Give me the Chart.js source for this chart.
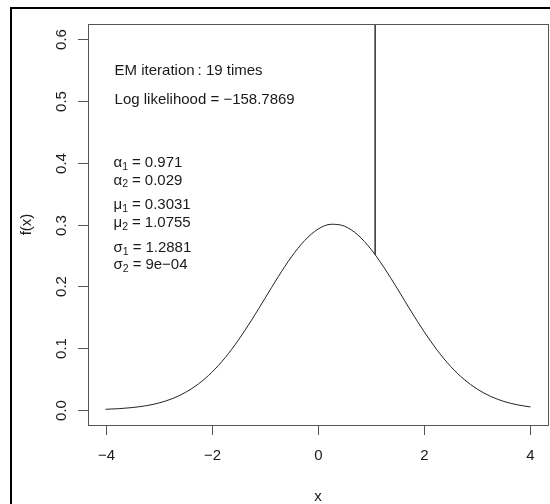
<!DOCTYPE html>
<html>
<head>
<meta charset="utf-8">
<script src="https://cdn.jsdelivr.net/npm/chart.js@4.4.1/dist/chart.umd.min.js"></script>
<style>
body{margin:0;background:#fff;}
</style>
</head>
<body>
<canvas id="myChart" width="550" height="504"></canvas>
<script>
// fitted mixture density
const xVals=[-4,-3.75,-3.5,-3.25,-3,-2.75,-2.5,-2.25,-2,-1.75,-1.5,-1.25,-1,-0.75,-0.5,-0.25,0,0.25,0.5,0.75,1,1.0755,1.25,1.5,1.75,2,2.25,2.5,2.75,3,3.25,3.5,3.75,4];
const fVals=[0.0011,0.0021,0.0039,0.0067,0.0112,0.0181,0.0282,0.0422,0.0608,0.0844,0.1129,0.1454,0.1803,0.2153,0.2476,0.2742,0.2925,0.3004,0.2972,0.2831,0.2598,0.2512,0.2295,0.1953,0.1600,0.1263,0.0960,0.0702,0.0495,0.0336,0.0220,0.0138,0.0084,0.0049];
// narrow second component: shows as a vertical spike leaving the top of the plot
const spikeX=[1.0755,1.0755];
const spikeY=[0.2512,12.85];

const xTicks=[-4,-2,0,2,4];
const xTickLabels=["\u22124","\u22122","0","2","4"];
const yTicks=[0,0.1,0.2,0.3,0.4,0.5,0.6];
const yTickLabels=["0.0","0.1","0.2","0.3","0.4","0.5","0.6"];

const emIter=19;
const logLik="\u2212158.7869";
const parSymbols=["\u03b1","\u03b1","\u03bc","\u03bc","\u03c3","\u03c3"];
const parSubs=["1","2","1","2","1","2"];
const parValues=["0.971","0.029","0.3031","1.0755","1.2881","9e\u221204"];

const FONT="'Liberation Sans', Arial, sans-serif";

let curvePts=xVals.map(function(x,i){ return {x:x,y:fVals[i]}; });
let spikePts=spikeX.map(function(x,i){ return {x:x,y:spikeY[i]}; });

function drawPar(ctx,x,y,sym,sub,val){
    ctx.font="15px "+FONT;
    ctx.fillText(sym,x,y);
    x+=ctx.measureText(sym).width;
    ctx.font="10.5px "+FONT;
    ctx.fillText(sub,x,y+4);
    x+=ctx.measureText(sub).width+4;
    ctx.font="15px "+FONT;
    ctx.fillText("=",x,y);
    x+=ctx.measureText("=").width+4;
    ctx.fillText(val,x,y);
}

let rPlot={
    id:"rPlot",
    afterDraw:function(chart){
        let ctx=chart.ctx;
        let a=chart.chartArea;
        let sx=chart.scales.x, sy=chart.scales.y;
        ctx.save();
        // device frame
        ctx.strokeStyle="#000";
        ctx.lineWidth=2;
        ctx.strokeRect(11,8,620,620);
        // plot box
        ctx.strokeStyle="#555";
        ctx.lineWidth=1;
        ctx.strokeRect(Math.round(a.left)+0.5,Math.round(a.top)+0.5,Math.round(a.right-a.left),Math.round(a.bottom-a.top));
        ctx.fillStyle="#1a1a1a";
        ctx.font="15px "+FONT;
        // x axis
        ctx.textAlign="center";
        ctx.textBaseline="middle";
        for(let i=0;i<xTicks.length;i++){
            let px=Math.round(sx.getPixelForValue(xTicks[i]))+0.5;
            ctx.beginPath();
            ctx.moveTo(px,a.bottom);
            ctx.lineTo(px,a.bottom+10);
            ctx.stroke();
            ctx.fillText(xTickLabels[i],px,a.bottom+31);
        }
        ctx.fillText("x",(a.left+a.right)/2,a.bottom+72);
        // y axis, labels parallel to the axis
        for(let i=0;i<yTicks.length;i++){
            let py=Math.round(sy.getPixelForValue(yTicks[i]))+0.5;
            ctx.beginPath();
            ctx.moveTo(a.left-10,py);
            ctx.lineTo(a.left,py);
            ctx.stroke();
            ctx.save();
            ctx.translate(a.left-26,py);
            ctx.rotate(-Math.PI/2);
            ctx.fillText(yTickLabels[i],0,0);
            ctx.restore();
        }
        ctx.save();
        ctx.translate(27,(a.top+a.bottom)/2);
        ctx.rotate(-Math.PI/2);
        ctx.fillText("f(x)",0,0);
        ctx.restore();
        // annotations
        ctx.textAlign="left";
        let tx=sx.getPixelForValue(-3.83);
        ctx.fillText("EM iteration\u2009: "+emIter+" times",tx,sy.getPixelForValue(0.549));
        ctx.fillText("Log likelihood = "+logLik,tx,sy.getPixelForValue(0.502));
        let parY=[0.400,0.371,0.331,0.302,0.262,0.235];
        for(let i=0;i<parSymbols.length;i++){
            drawPar(ctx,tx-1,sy.getPixelForValue(parY[i]),parSymbols[i],parSubs[i],parValues[i]);
        }
        ctx.restore();
    }
};

let ctx=document.getElementById("myChart").getContext("2d");
let myChart=new Chart(ctx,{
    type:"scatter",
    data:{
        datasets:[
            {data:curvePts,showLine:true,borderColor:"#222",borderWidth:1,pointRadius:0,cubicInterpolationMode:"monotone"},
            {data:spikePts,showLine:true,borderColor:"#111",borderWidth:1.3,pointRadius:0,tension:0}
        ]
    },
    options:{
        responsive:false,
        animation:false,
        layout:{padding:{left:88,right:2,top:24,bottom:79}},
        plugins:{legend:{display:false},tooltip:{enabled:false}},
        scales:{
            x:{type:"linear",display:false,min:-4.33,max:4.33},
            y:{type:"linear",display:false,min:-0.0243,max:0.6243}
        }
    },
    plugins:[rPlot]
});
</script>
</body>
</html>
